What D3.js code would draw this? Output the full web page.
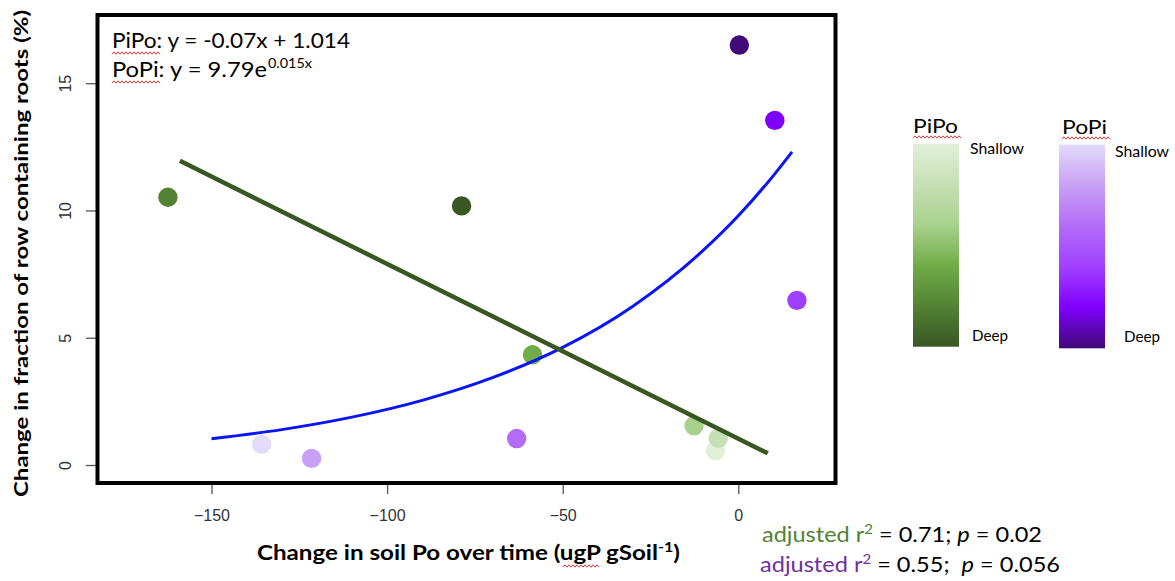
<!DOCTYPE html>
<html>
<head>
<meta charset="utf-8">
<script src="https://cdn.jsdelivr.net/npm/d3@7"></script>
<style>
  body { margin: 0; background: #fff; }
  text { font-family: Lato, "Open Sans", sans-serif; fill: #000; }
  .tick text { font-family: "Liberation Sans", Arial, sans-serif; font-size: 16px; fill: #333; }
  .tick line { stroke: #555; stroke-width: 1.3; }
</style>
</head>
<body>
<div id="chart"></div>
<script>
////////////////////////////////////////////////////////////////
// Data

// PiPo points: change in soil Po, change in root fraction, depth rank (0 shallow .. 1 deep)
var pipoX = [-162.4, -78.8, -58.6, -12.6, -6.5, -5.7];
var pipoY = [10.52, 10.18, 4.33, 1.54, 0.56, 1.05];
var pipoDepth = [0.8, 1.0, 0.6, 0.4, 0.0, 0.2];

// PoPi points
var popiX = [0.3, 10.4, 16.7, -63.1, -121.5, -135.7];
var popiY = [16.5, 13.54, 6.47, 1.04, 0.26, 0.81];
var popiDepth = [1.0, 0.8, 0.6, 0.4, 0.2, 0.0];

// PiPo linear fit (end points)
var pipoFitX = [-159, 8.4];
var pipoFitY = [11.95, 0.46];

// PoPi exponential fit (points along the curve)
var popiFitX = [-150, -130, -110, -90, -70, -50, -30, -10, 0, 10, 15.3];
var popiFitY = [1.03, 1.39, 1.88, 2.54, 3.43, 4.62, 6.24, 8.43, 9.79, 11.37, 12.3];

// Ticks
var xTicks = [-150, -100, -50, 0];
var yTicks = [0, 5, 10, 15];

// Depth colour ramps (shallow -> deep)
var depthStops = [0, 0.2, 0.4, 0.6, 0.8, 1];
var greenRamp = ["#e2f0d9", "#c5e0b4", "#a9d18e", "#70ad47", "#548235", "#385723"];
var purpleRamp = ["#e3dbfb", "#c8a0f5", "#b36cf7", "#a040ff", "#8000ff", "#400a78"];

////////////////////////////////////////////////////////////////
// Basic parameters

var svgWidth = 1175;
var svgHeight = 581;
var box = { left: 97.5, right: 835.5, top: 15, bottom: 483 };

var svg = d3.select("#chart")
    .append("svg")
    .attr("width", svgWidth)
    .attr("height", svgHeight);

var x = d3.scaleLinear().domain([-182.46, 27.68]).range([box.left, box.right]);
var y = d3.scaleLinear().domain([-0.707, 17.68]).range([box.bottom, box.top]);

var greenScale = d3.scaleLinear().domain(depthStops).range(greenRamp);
var purpleScale = d3.scaleLinear().domain(depthStops).range(purpleRamp);

// red spell-check squiggle
function squiggle(x0, x1, yy) {
    var pts = [];
    for (var i = 0; x0 + i * 2 <= x1; i++) pts.push([x0 + i * 2, yy + (i % 2 ? -1.2 : 1.2)]);
    svg.append("path").attr("d", d3.line()(pts))
        .attr("fill", "none").attr("stroke", "#e23b3b").attr("stroke-width", 1);
}

////////////////////////////////////////////////////////////////
// Axes

var xAxis = svg.append("g")
    .attr("transform", `translate(0, ${box.bottom + 1})`)
    .call(d3.axisBottom(x).tickValues(xTicks).tickSize(10).tickPadding(16).tickFormat(d3.format("d")));
xAxis.select(".domain").remove();

var yAxis = svg.append("g")
    .attr("transform", `translate(${box.left - 1.5}, 0)`)
    .call(d3.axisLeft(y).tickValues(yTicks).tickSize(10).tickFormat(d3.format("d")));
yAxis.select(".domain").remove();
yAxis.selectAll(".tick text")
    .attr("transform", "rotate(-90)")
    .attr("x", 0)
    .attr("y", -25)
    .attr("dy", 0)
    .attr("text-anchor", "middle");

////////////////////////////////////////////////////////////////
// Points and fits

var pipo = pipoX.map((d, i) => ({ x: d, y: pipoY[i], depth: pipoDepth[i] }));
var popi = popiX.map((d, i) => ({ x: d, y: popiY[i], depth: popiDepth[i] }));

svg.append("g").selectAll("circle")
    .data(pipo)
    .enter()
    .append("circle")
    .attr("cx", d => x(d.x))
    .attr("cy", d => y(d.y))
    .attr("r", 9.7)
    .attr("fill", d => greenScale(d.depth));

svg.append("g").selectAll("circle")
    .data(popi)
    .enter()
    .append("circle")
    .attr("cx", d => x(d.x))
    .attr("cy", d => y(d.y))
    .attr("r", 9.7)
    .attr("fill", d => purpleScale(d.depth));

var popiFit = popiFitX.map((d, i) => [d, popiFitY[i]]);
svg.append("path")
    .attr("d", d3.line().x(d => x(d[0])).y(d => y(d[1])).curve(d3.curveMonotoneX)(popiFit))
    .attr("fill", "none")
    .attr("stroke", "#0a14f5")
    .attr("stroke-width", 3);

var pipoFit = pipoFitX.map((d, i) => [d, pipoFitY[i]]);
svg.append("path")
    .attr("d", d3.line().x(d => x(d[0])).y(d => y(d[1]))(pipoFit))
    .attr("fill", "none")
    .attr("stroke", "#385723")
    .attr("stroke-width", 4.5);

// frame
svg.append("rect")
    .attr("x", box.left)
    .attr("y", box.top)
    .attr("width", box.right - box.left)
    .attr("height", box.bottom - box.top)
    .attr("fill", "none")
    .attr("stroke", "#000")
    .attr("stroke-width", 4);

////////////////////////////////////////////////////////////////
// Equations

svg.append("text")
    .attr("x", 112).attr("y", 48)
    .attr("font-size", 21)
    .attr("textLength", 238).attr("lengthAdjust", "spacingAndGlyphs")
    .text("PiPo: y = -0.07x + 1.014");
squiggle(112, 160, 53);

svg.append("text")
    .attr("x", 112).attr("y", 77)
    .attr("font-size", 21)
    .attr("textLength", 155).attr("lengthAdjust", "spacingAndGlyphs")
    .text("PoPi: y = 9.79e");
svg.append("text")
    .attr("x", 268).attr("y", 68)
    .attr("font-size", 14)
    .attr("textLength", 44).attr("lengthAdjust", "spacingAndGlyphs")
    .text("0.015x");
squiggle(112, 160, 82);

////////////////////////////////////////////////////////////////
// Axis titles

var xTitle = svg.append("text")
    .attr("x", 257).attr("y", 560)
    .attr("font-size", 21)
    .attr("font-weight", "bold")
    .attr("textLength", 423).attr("lengthAdjust", "spacingAndGlyphs");
xTitle.append("tspan").text("Change in soil Po over time (ugP gSoil");
xTitle.append("tspan").attr("dy", -8).attr("font-size", 14).text("-1");
xTitle.append("tspan").attr("dy", 8).text(")");
squiggle(563, 600, 566);

svg.append("text")
    .attr("transform", "translate(28, 253.5) rotate(-90)")
    .attr("text-anchor", "middle")
    .attr("font-size", 19)
    .attr("font-weight", "bold")
    .attr("textLength", 487).attr("lengthAdjust", "spacingAndGlyphs")
    .text("Change in fraction of row containing roots (%)");

////////////////////////////////////////////////////////////////
// Depth legends

var defs = svg.append("defs");
function gradient(id, ramp) {
    var g = defs.append("linearGradient").attr("id", id)
        .attr("x1", 0).attr("y1", 0).attr("x2", 0).attr("y2", 1);
    g.selectAll("stop").data(ramp).enter().append("stop")
        .attr("offset", (d, i) => depthStops[i])
        .attr("stop-color", d => d);
}
gradient("gradPiPo", greenRamp);
gradient("gradPoPi", purpleRamp);

var legends = [
    { name: "PiPo", grad: "gradPiPo", x: 913, top: 143.7, bottom: 346.7, titleY: 133, shallowX: 970, shallowY: 154, deepX: 972, deepY: 341 },
    { name: "PoPi", grad: "gradPoPi", x: 1059, top: 144.5, bottom: 348.3, titleY: 134, shallowX: 1115, shallowY: 157, deepX: 1124, deepY: 342 }
];

legends.forEach(function (l) {
    svg.append("rect")
        .attr("x", l.x).attr("y", l.top)
        .attr("width", 46).attr("height", l.bottom - l.top)
        .attr("fill", `url(#${l.grad})`);
    svg.append("text")
        .attr("x", l.x + (l.name === "PoPi" ? 3 : 0)).attr("y", l.titleY)
        .attr("font-size", 20)
        .attr("textLength", 45).attr("lengthAdjust", "spacingAndGlyphs")
        .text(l.name);
    squiggle(l.x + (l.name === "PoPi" ? 3 : 0), l.x + (l.name === "PoPi" ? 52 : 48), l.titleY + 4);
    svg.append("text")
        .attr("x", l.shallowX).attr("y", l.shallowY)
        .attr("font-size", 15)
        .attr("textLength", 54).attr("lengthAdjust", "spacingAndGlyphs")
        .text("Shallow");
    svg.append("text")
        .attr("x", l.deepX).attr("y", l.deepY)
        .attr("font-size", 15)
        .attr("textLength", 36).attr("lengthAdjust", "spacingAndGlyphs")
        .text("Deep");
});

////////////////////////////////////////////////////////////////
// Fit statistics

var stats = [
    { colour: "#548235", r2: "0.71", p: "0.02", x: 762, y: 542, len: 280, gap: " " },
    { colour: "#7030a0", r2: "0.55", p: "0.056", x: 760, y: 572, len: 300, gap: "  " }
];
stats.forEach(function (s) {
    var t = svg.append("text")
        .attr("x", s.x).attr("y", s.y)
        .attr("font-size", 22)
        .attr("textLength", s.len).attr("lengthAdjust", "spacingAndGlyphs")
        .attr("xml:space", "preserve");
    t.append("tspan").attr("fill", s.colour).text("adjusted r");
    t.append("tspan").attr("fill", s.colour).attr("dy", -8).attr("font-size", 14).text("2");
    t.append("tspan").attr("dy", 8).text(" = " + s.r2 + ";" + s.gap);
    t.append("tspan").attr("font-style", "italic").text("p");
    t.append("tspan").text(" = " + s.p);
});
</script>
</body>
</html>
